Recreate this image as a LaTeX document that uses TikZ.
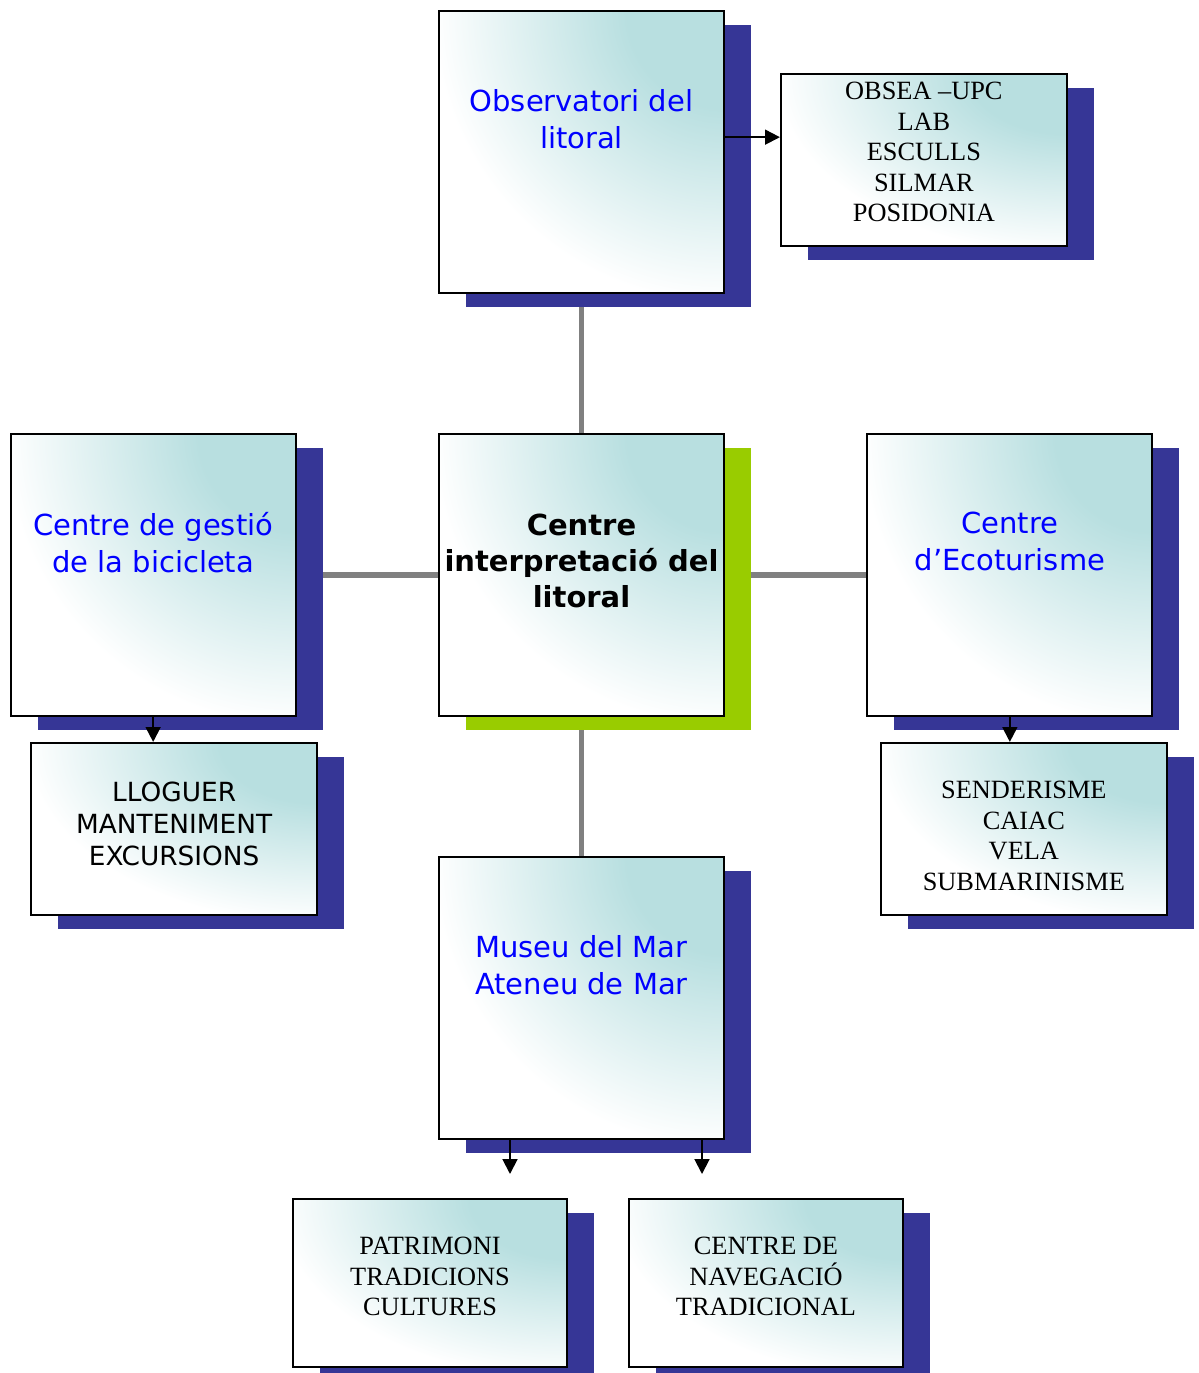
\documentclass[tikz,border=0pt]{standalone}
\usepackage{fontspec}
\setmainfont{Liberation Serif}
\setsansfont{DejaVu Sans}
\usepackage{xcolor}
\usetikzlibrary{positioning, shadows, arrows.meta, backgrounds}

\definecolor{navyshadow}{HTML}{363696}
\definecolor{limeshadow}{HTML}{99CC00}
\definecolor{seafoam}{HTML}{B8DFE0}
\pgfdeclareradialshading{cornerfade}{\pgfpoint{0bp}{0bp}}{color(0bp)=(seafoam); color(5bp)=(seafoam); color(15bp)=(white); color(50bp)=(white)}

\begin{document}
\begin{tikzpicture}[
        x=0.02cm, y=-0.02cm,
        node distance=2.78cm and 2.83cm,
        every node/.style={font=\sffamily},
        shadowed/.style={drop shadow={shadow xshift=0.54cm, shadow yshift=-0.28cm, fill=#1, opacity=1}},
        fade/.style 2 args={path picture={\shade[shading=cornerfade] (path picture bounding box.north east) ellipse [x radius=#1, y radius=#2];}},
        box/.style={draw, rectangle, line width=1.1pt, fill=white, shadowed=navyshadow},
        bigbox/.style={box, fade={9.7cm}{9.7cm}, minimum width=5.7cm, minimum height=5.64cm},
        smallbox/.style={box, fade={9.7cm}{6cm}, minimum width=5.72cm, minimum height=3.44cm},
        title/.style={align=center, inner sep=0pt, text=blue, font=\sffamily\fontsize{16.5}{21}\selectfont},
        list/.style={align=center, inner sep=0pt, font=\rmfamily\fontsize{15}{17.3}\selectfont},
        link/.style={draw=gray, line width=3pt},
        arrow/.style={-{Triangle[length=8.5pt, width=8.5pt]}, line width=1.1pt}
    ]

    \useasboundingbox (0,0) rectangle (1198,1373);

    \node[bigbox, shadowed=limeshadow] (centre) at (581.5,575) {};
    \node[bigbox, above=of centre] (obs) {};
    \node[bigbox, left=of centre] (bici) {};
    \node[bigbox, right=of centre] (ecot) {};
    \node[bigbox, below=of centre] (museu) {};

    \node[title, text=black, font=\sffamily\bfseries\fontsize{16.5}{20.5}\selectfont, below=1.62cm of centre.north] (centretext) {Centre\\interpretació del\\litoral};
    \node[title, below=1.58cm of obs.north] (obstext) {Observatori del\\litoral};
    \node[title, below=1.58cm of bici.north] (bicitext) {Centre de gestió\\de la bicicleta};
    \node[title, below=1.58cm of ecot.north] (ecottext) {Centre\\d’Ecoturisme};
    \node[title, below=1.58cm of museu.north] (museutext) {Museu del Mar\\Ateneu de Mar};

    \node[smallbox, right=1.1cm of obs, yshift=-0.15cm] (obsea) {};
    \node[smallbox, below=0.5cm of bici, xshift=0.42cm] (lloguer) {};
    \node[smallbox, below=0.5cm of ecot, xshift=0.28cm] (sender) {};
    \node[smallbox, minimum width=5.48cm, minimum height=3.36cm, below=1.16cm of museu, xshift=-3.03cm] (patrimoni) {};
    \node[smallbox, minimum width=5.48cm, minimum height=3.36cm, below=1.16cm of museu, xshift=3.69cm] (navegacio) {};

    \node[list] (obsealist) at ([yshift=0.15cm]obsea.center) {OBSEA –UPC\\LAB\\ESCULLS\\SILMAR\\POSIDONIA};
    \node[list, font=\sffamily\fontsize{15}{18}\selectfont] (lloguerlist) at ([yshift=0.1cm]lloguer.center) {LLOGUER\\MANTENIMENT\\EXCURSIONS};
    \node[list] (senderlist) at ([yshift=-0.14cm]sender.center) {SENDERISME\\CAIAC\\VELA\\SUBMARINISME};
    \node[list] (patrimonilist) at ([yshift=0.12cm]patrimoni.center) {PATRIMONI\\TRADICIONS\\CULTURES};
    \node[list] (navegaciolist) at ([yshift=0.12cm]navegacio.center) {CENTRE DE\\NAVEGACIÓ\\TRADICIONAL};

    \coordinate (leftdrop) at (510,1174);
    \coordinate (rightdrop) at (702,1174);

    \begin{pgfonlayer}{background}
        \draw[link] (obs) -- (centre);
        \draw[link] (bici) -- (centre);
        \draw[link] (ecot) -- (centre);
        \draw[link] (museu) -- (centre);
    \end{pgfonlayer}

    \draw[arrow] ([yshift=0.3cm]obs.east) -- ([yshift=0.3cm]obs.east -| obsea.west);
    \draw[arrow] (bici.south) -- (bici.south |- lloguer.north);
    \draw[arrow] (ecot.south) -- (ecot.south |- sender.north);
    \draw[arrow] (museu.south -| leftdrop) -- (leftdrop);
    \draw[arrow] (museu.south -| rightdrop) -- (rightdrop);

\end{tikzpicture}
\end{document}
